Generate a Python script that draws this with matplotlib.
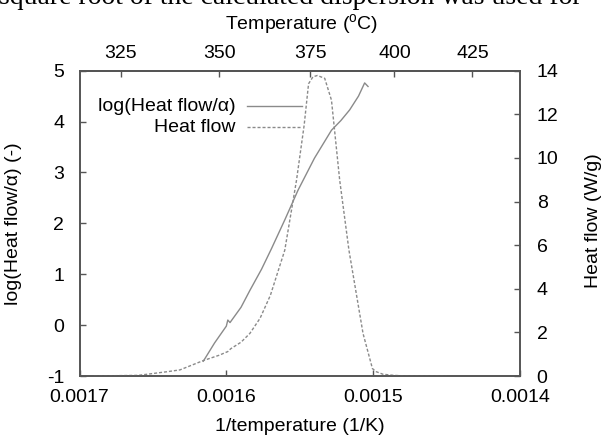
import numpy as np
import matplotlib.pyplot as plt

plt.rcParams['font.family'] = ['Liberation Sans', 'DejaVu Sans']
plt.rcParams['mathtext.fontset'] = 'custom'
plt.rcParams['mathtext.rm'] = 'Liberation Sans'
plt.rcParams['font.size'] = 14
plt.rcParams['axes.unicode_minus'] = False

# log(Heat flow/alpha) vs 1/T
inv_t_log = [0.0016157, 0.0016080, 0.0016000, 0.0015990, 0.0015975, 0.0015900,
             0.0015840, 0.0015760, 0.0015693, 0.0015600, 0.0015512, 0.0015400,
             0.0015284, 0.0015220, 0.0015160, 0.0015100, 0.0015058, 0.0015035]
log_hf = [-0.71, -0.35, -0.02, 0.10, 0.05, 0.35,
          0.68, 1.10, 1.50, 2.08, 2.65, 3.28,
          3.83, 4.02, 4.23, 4.50, 4.76, 4.69]

# Heat flow (W/g) vs 1/T
inv_t_hf = [0.00169, 0.00166, 0.0016516, 0.00164, 0.0016316, 0.001616, 0.001605,
            0.001599, 0.001597, 0.00159, 0.001584, 0.001577, 0.00157, 0.0015602,
            0.0015522, 0.001547, 0.001544, 0.001541, 0.001538, 0.001533, 0.0015284,
            0.0015228, 0.0015165, 0.0015069, 0.0015005, 0.001498, 0.0014933,
            0.001486, 0.0014774, 0.00145]
heat_flow = [0.0, 0.03, 0.1, 0.2, 0.28, 0.7, 0.95,
             1.12, 1.25, 1.55, 1.95, 2.65, 3.7, 5.77,
             8.98, 11.5, 13.4, 13.72, 13.78, 13.65, 12.65,
             8.98, 5.77, 1.95, 0.34, 0.2, 0.08,
             0.03, 0.0, 0.0]

x_ticks = [0.0017, 0.0016, 0.0015, 0.0014]
x_tick_labels = ['0.0017', '0.0016', '0.0015', '0.0014']
temp_ticks = [325, 350, 375, 400, 425]
left_ticks = [-1, 0, 1, 2, 3, 4, 5]
right_ticks = [0, 2, 4, 6, 8, 10, 12, 14]

frame = '#555555'
line_col = '#8a8a8a'
dash = (2.2, 1.4)

W, H = 604, 436
fig = plt.figure(figsize=(W / 100, H / 100), dpi=100)
L, R, T, B = 79.5, 520, 70.7, 376
ax = fig.add_axes([L / W, 1 - B / H, (R - L) / W, (B - T) / H])
ax2 = ax.twinx()

ax.plot(inv_t_log, log_hf, color=line_col, lw=1.0)
ax2.plot(inv_t_hf, heat_flow, color=line_col, lw=1.0, dashes=dash)

ax.set_xlim(0.0017, 0.0014)
ax.set_ylim(-1, 5)
ax2.set_ylim(0, 14)
ax.set_xticks(x_ticks)
ax.set_xticklabels(x_tick_labels)
ax.set_yticks(left_ticks)
ax2.set_yticks(right_ticks)

secax = ax.secondary_xaxis('top', functions=(lambda x: 1 / x - 273.15,
                                             lambda t: 1 / (t + 273.15)))
secax.set_xticks(temp_ticks)

for a in (ax, ax2, secax):
    for s in a.spines.values():
        s.set_color(frame)
        s.set_linewidth(1.2)

ax.tick_params(axis='x', direction='in', length=4, width=1, color=frame, pad=9)
ax.tick_params(axis='y', direction='in', length=4, width=1, color=frame, pad=11)
ax2.tick_params(axis='y', direction='in', length=4, width=1, color=frame, pad=12)
secax.tick_params(axis='x', direction='in', length=4, width=1, color=frame, pad=6.5)

ax.set_xlabel('1/temperature (1/K)', va='center')
ax.xaxis.set_label_coords(0.5, (B - 426) / (B - T))
ax.set_ylabel('log(Heat flow/α) (-)', va='center')
ax.yaxis.set_label_coords((14 - L) / (R - L), 0.5)
ax2.set_ylabel('Heat flow (W/g)', va='center')
ax2.yaxis.set_label_coords((593 - L) / (R - L), 0.51)
fig.text(0.5, 1 - 25 / H, 'Temperature ($^{\\rm o}$C)', ha='center', va='center')

# legend, gnuplot style (text then sample)
leg_rows = [('log(Heat flow/α)', None), ('Heat flow', dash)]
for i, (lab, dd) in enumerate(leg_rows):
    y = (B - 106.5 - i * 21) / (B - T)
    ax.text((236 - L) / (R - L), y, lab, ha='right', va='center', transform=ax.transAxes)
    seg, = ax.plot([(247 - L) / (R - L), (302 - L) / (R - L)], [y, y], color=line_col,
                   lw=1.0, transform=ax.transAxes)
    if dd:
        seg.set_dashes(dd)

fig.text(-0.002, 1 - 4 / H, 'square root of the calculated dispersion was used for',
         family='Liberation Serif', fontsize=20, ha='left', va='baseline')

fig.savefig('out.png', dpi=100)
